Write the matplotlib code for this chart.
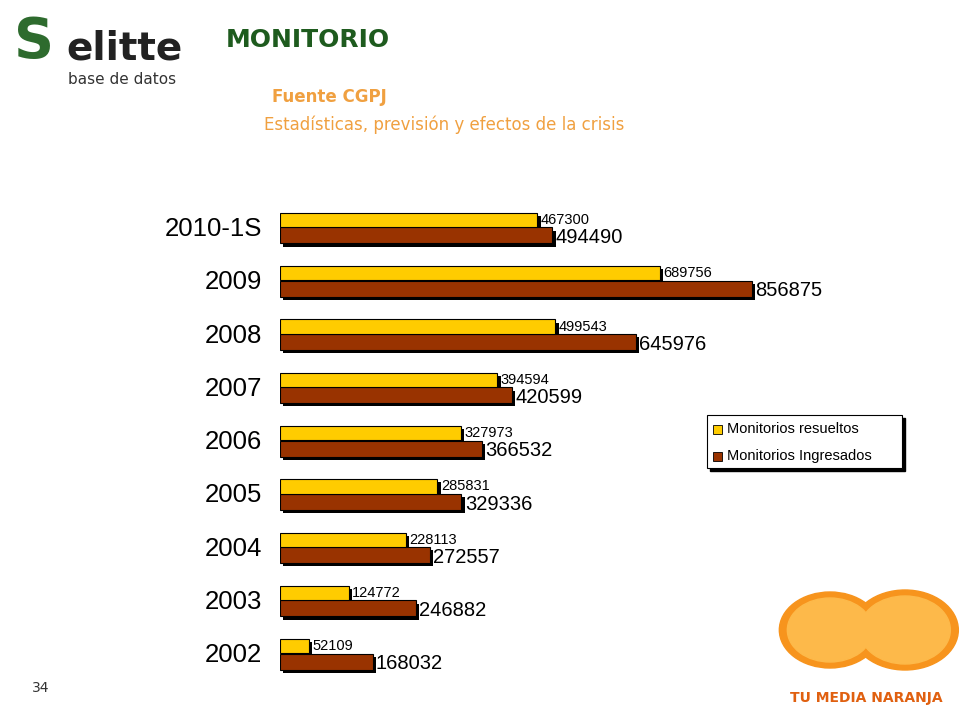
import matplotlib
matplotlib.use("Agg")
import matplotlib.pyplot as plt
from matplotlib.patches import Circle, Rectangle

categories = ["2010-1S", "2009", "2008", "2007", "2006", "2005", "2004", "2003", "2002"]
resueltos = [467300, 689756, 499543, 394594, 327973, 285831, 228113, 124772, 52109]
ingresados = [494490, 856875, 645976, 420599, 366532, 329336, 272557, 246882, 168032]

W, H = 960, 720
fig = plt.figure(figsize=(W/100, H/100), dpi=100)
fig.patch.set_facecolor("white")

def fx(px): return px / W
def fy(py): return 1 - py / H

ax = fig.add_axes([fx(280), fy(690), fx(680), (690-180)/H])
ax.set_xlim(0, 680/0.000551)
ax.set_ylim(8.67, -0.9)
ax.axis("off")

ypos = list(range(len(categories)))
yel_off, yel_h = -0.15, 0.27
br_off, br_h = 0.14, 0.30
sx, sy = 6000, 0.06  # shadow offset
for i in ypos:
    ax.barh(i + br_off + sy, ingresados[i], height=br_h, left=sx, color="black", zorder=1)
    ax.barh(i + br_off, ingresados[i], height=br_h, color="#993300", edgecolor="black", lw=0.8, zorder=3)
    ax.barh(i + yel_off + sy, resueltos[i], height=yel_h, left=sx, color="black", zorder=2)
    ax.barh(i + yel_off, resueltos[i], height=yel_h, color="#FFCC00", edgecolor="black", lw=0.8, zorder=4)
    ax.text(resueltos[i] + 6000, i + yel_off, str(resueltos[i]), va="center", ha="left", fontsize=10.5, family="Liberation Sans", zorder=5)
    ax.text(ingresados[i] + 6000, i + br_off + 0.04, str(ingresados[i]), va="center", ha="left", fontsize=14.5, family="Liberation Sans", zorder=5)
    ax.text(-33000, i + 0.02, categories[i], va="center", ha="right", fontsize=18.5, family="Liberation Sans", clip_on=False)

# legend
lx0, ly0, lx1, ly1 = 707, 415, 902, 468
fig.patches.append(Rectangle((fx(lx0+3), fy(ly1+3)), fx(lx1-lx0), (ly1-ly0)/H, transform=fig.transFigure, color="black", zorder=1))
fig.patches.append(Rectangle((fx(lx0), fy(ly1)), fx(lx1-lx0), (ly1-ly0)/H, transform=fig.transFigure, facecolor="white", edgecolor="black", lw=0.8, zorder=2))
for k, (lab, col, yy) in enumerate([("Monitorios resueltos", "#FFCC00", 429), ("Monitorios Ingresados", "#993300", 456)]):
    fig.patches.append(Rectangle((fx(713), fy(yy+5)), fx(9), 9/H, transform=fig.transFigure, facecolor=col, edgecolor="black", lw=0.6, zorder=3))
    fig.text(fx(727), fy(yy), lab, va="center", ha="left", fontsize=10.5, family="Liberation Sans", zorder=4)

# header texts
fig.text(fx(226), fy(40), "MONITORIO", fontsize=18, weight="bold", color="#1E5B1E", va="center", family="DejaVu Sans")
fig.text(fx(272), fy(97), "Fuente CGPJ", fontsize=12, weight="bold", color="#F0A040", va="center", family="DejaVu Sans")
fig.text(fx(264), fy(125), "Estadísticas, previsión y efectos de la crisis", fontsize=12, color="#F0A040", va="center", family="DejaVu Sans")
fig.text(fx(14), fy(42), "S", fontsize=40, weight="bold", color="#2E6B2E", va="center", family="DejaVu Sans")
fig.text(fx(66), fy(48), "elitte", fontsize=28, weight="bold", color="#222222", va="center", family="DejaVu Sans")
fig.text(fx(68), fy(80), "base de datos", fontsize=11, color="#333333", va="center", family="DejaVu Sans")
fig.text(fx(32), fy(688), "34", fontsize=10, color="#333333", va="center", family="DejaVu Sans")
fig.text(fx(866), fy(698), "TU MEDIA NARANJA", fontsize=10, weight="bold", color="#E06010", va="center", ha="center", family="DejaVu Sans")
# oranges decoration
for (cx, cy, r) in [(830, 630, 38), (905, 630, 40)]:
    fig.patches.append(Circle((fx(cx), fy(cy)), r/H, transform=fig.transFigure, color="#F7941D", zorder=1))
    fig.patches.append(Circle((fx(cx), fy(cy)), (r-6)/H, transform=fig.transFigure, color="#FDB94A", zorder=2))

fig.savefig("out.png", dpi=100)
